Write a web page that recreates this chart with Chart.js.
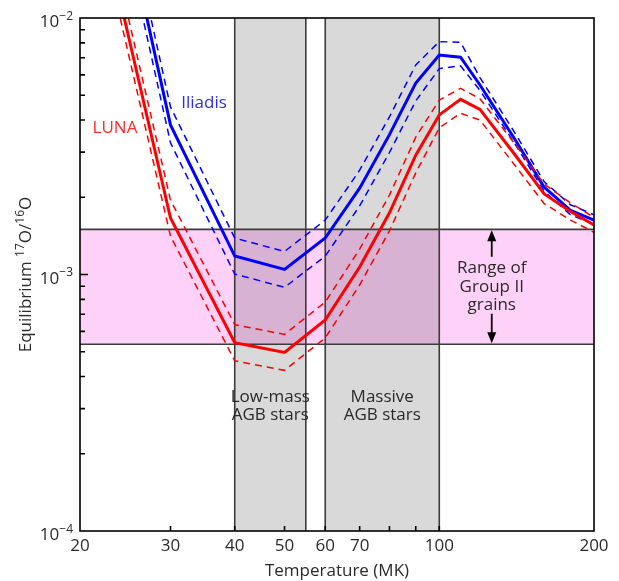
<!DOCTYPE html>
<html>
<head>
<meta charset="utf-8">
<script src="https://cdn.jsdelivr.net/npm/chart.js@4"></script>
<style>
  html, body { margin: 0; padding: 0; background: #fff; }
</style>
</head>
<body>
<canvas id="myChart" width="619" height="581"></canvas>
<script>
// temperatures (MK) where the equilibrium ratio was read
const temps = [20, 25, 30, 40, 50, 60, 70, 80, 90, 100, 110, 120, 140, 160, 180, 200];

// Iliadis rates
const iliadis     = [0.1, 2.0e-2, 3.83e-3, 1.18e-3, 1.047e-3, 1.387e-3, 2.17e-3, 3.51e-3, 5.58e-3, 7.17e-3, 7.03e-3, 5.48e-3, 3.39e-3, 2.19e-3, 1.78e-3, 1.63e-3];
const iliadisHigh = [0.12, 2.35e-2, 4.5e-3, 1.387e-3, 1.23e-3, 1.63e-3, 2.55e-3, 4.12e-3, 6.56e-3, 8.09e-3, 8.04e-3, 5.86e-3, 3.59e-3, 2.3e-3, 1.87e-3, 1.71e-3];
const iliadisLow  = [0.085, 1.7e-2, 3.26e-3, 1.004e-3, 8.91e-4, 1.18e-3, 1.85e-3, 2.99e-3, 4.75e-3, 6.35e-3, 6.51e-3, 5.22e-3, 3.26e-3, 2.11e-3, 1.71e-3, 1.57e-3];

// LUNA rates
const luna     = [5.6e-2, 8.06e-3, 1.66e-3, 5.42e-4, 4.97e-4, 6.65e-4, 1.069e-3, 1.74e-3, 2.92e-3, 4.19e-3, 4.82e-3, 4.4e-3, 2.95e-3, 2.06e-3, 1.76e-3, 1.56e-3];
const lunaHigh = [6.6e-2, 9.47e-3, 1.95e-3, 6.37e-4, 5.84e-4, 7.81e-4, 1.256e-3, 2.04e-3, 3.43e-3, 4.79e-3, 5.32e-3, 4.84e-3, 3.25e-3, 2.25e-3, 1.9e-3, 1.67e-3];
const lunaLow  = [4.8e-2, 6.86e-3, 1.41e-3, 4.61e-4, 4.23e-4, 5.66e-4, 9.1e-4, 1.48e-3, 2.49e-3, 3.73e-3, 4.25e-3, 4.0e-3, 2.68e-3, 1.89e-3, 1.63e-3, 1.46e-3];

// grain range and stellar temperature ranges
const grainRange = [5.35e-4, 1.5e-3];
const lowMassAGB = [40, 55];
const massiveAGB = [60, 100];

// axis ticks
const xTickValues = [20, 30, 40, 50, 60, 70, 100, 200];
const xMinorTicks = [30, 40, 50, 60, 70, 80, 90, 100];
const yTickValues = [1e-2, 1e-3, 1e-4];

const FONT = '"Open Sans", sans-serif';
const INK = '#2a2a2a';
const BLUE = 'rgb(0,0,255)';
const RED = 'rgb(255,0,0)';

function series(vals) {
  return temps.map((t, i) => ({ x: t, y: vals[i] }));
}

// draw text made of [text, isSuperscript] parts
function richText(ctx, parts, x, y, size, align) {
  const supSize = Math.round(size * 0.68);
  let w = 0;
  parts.forEach(p => {
    ctx.font = (p[1] ? supSize : size) + 'px ' + FONT;
    w += ctx.measureText(p[0]).width;
  });
  let cx = align === 'right' ? x - w : align === 'center' ? x - w / 2 : x;
  ctx.textAlign = 'left';
  ctx.textBaseline = 'alphabetic';
  parts.forEach(p => {
    ctx.font = (p[1] ? supSize : size) + 'px ' + FONT;
    ctx.fillText(p[0], cx, p[1] ? y - size * 0.42 : y);
    cx += ctx.measureText(p[0]).width;
  });
}

function arrowHead(ctx, x, tipY, dir) {
  ctx.beginPath();
  ctx.moveTo(x, tipY);
  ctx.lineTo(x - 4.5, tipY + dir * 11);
  ctx.lineTo(x + 4.5, tipY + dir * 11);
  ctx.closePath();
  ctx.fill();
}

const decorations = {
  id: 'decorations',
  beforeDatasetsDraw(chart) {
    const { ctx, chartArea: a, scales: { x, y } } = chart;
    ctx.save();
    const yTop = y.getPixelForValue(grainRange[1]);
    const yBot = y.getPixelForValue(grainRange[0]);
    ctx.fillStyle = '#fdd1f8';
    ctx.fillRect(a.left, yTop, a.right - a.left, yBot - yTop);

    ctx.globalCompositeOperation = 'multiply';
    ctx.fillStyle = '#d9d9d9';
    [lowMassAGB, massiveAGB].forEach(r => {
      const x0 = x.getPixelForValue(r[0]), x1 = x.getPixelForValue(r[1]);
      ctx.fillRect(x0, a.top, x1 - x0, a.bottom - a.top);
    });
    ctx.globalCompositeOperation = 'source-over';

    ctx.strokeStyle = '#3c3c3c';
    ctx.lineWidth = 1.6;
    ctx.beginPath();
    [yTop, yBot].forEach(py => { ctx.moveTo(a.left, py); ctx.lineTo(a.right, py); });
    [lowMassAGB[0], lowMassAGB[1], massiveAGB[0], massiveAGB[1]].forEach(v => {
      const px = x.getPixelForValue(v);
      ctx.moveTo(px, a.top); ctx.lineTo(px, a.bottom);
    });
    ctx.stroke();
    ctx.restore();
  },
  afterDatasetsDraw(chart) {
    const { ctx, chartArea: a, scales: { x, y } } = chart;
    ctx.save();
    // frame
    ctx.strokeStyle = '#000';
    ctx.lineWidth = 1.6;
    ctx.strokeRect(a.left, a.top, a.right - a.left, a.bottom - a.top);

    // inside ticks
    ctx.beginPath();
    xMinorTicks.forEach(v => {
      const px = x.getPixelForValue(v);
      ctx.moveTo(px, a.bottom); ctx.lineTo(px, a.bottom - 5);
    });
    for (let d = -4; d < -2; d++) {
      for (let m = 1; m < 10; m++) {
        const py = y.getPixelForValue(m * Math.pow(10, d));
        if (m === 1 && d === -4) continue;
        ctx.moveTo(a.left, py); ctx.lineTo(a.left + (m === 1 ? 8 : 5), py);
      }
    }
    ctx.stroke();

    // y tick labels
    ctx.fillStyle = INK;
    yTickValues.forEach(v => {
      const py = y.getPixelForValue(v);
      const e = Math.round(Math.log10(v));
      richText(ctx, [['10', false], ['\u2212' + Math.abs(e), true]], a.left - 7, py + 9, 17, 'right');
    });

    // y title
    ctx.save();
    ctx.translate(25, (a.top + a.bottom) / 2);
    ctx.rotate(-Math.PI / 2);
    richText(ctx, [['Equilibrium ', false], ['17', true], ['O/', false], ['16', true], ['O', false]], 0, 6, 17, 'center');
    ctx.restore();

    // grain range arrow and text
    const yTop = y.getPixelForValue(grainRange[1]);
    const yBot = y.getPixelForValue(grainRange[0]);
    const mid = (yTop + yBot) / 2;
    const ax = x.getPixelForValue(126.5);
    ctx.strokeStyle = '#000';
    ctx.fillStyle = '#000';
    ctx.lineWidth = 1.8;
    ctx.beginPath();
    ctx.moveTo(ax, yTop + 6); ctx.lineTo(ax, mid - 30);
    ctx.moveTo(ax, mid + 27); ctx.lineTo(ax, yBot - 6);
    ctx.stroke();
    arrowHead(ctx, ax, yTop + 1, 1);
    arrowHead(ctx, ax, yBot - 1, -1);

    ctx.fillStyle = INK;
    ctx.font = '17px ' + FONT;
    ctx.textAlign = 'center';
    ctx.textBaseline = 'middle';
    ctx.fillText('Range of', ax, mid - 18.5);
    ctx.fillText('Group II', ax, mid);
    ctx.fillText('grains', ax, mid + 18.5);

    // star labels
    const lx = (x.getPixelForValue(lowMassAGB[0]) + x.getPixelForValue(lowMassAGB[1])) / 2;
    const mx = (x.getPixelForValue(massiveAGB[0]) + x.getPixelForValue(massiveAGB[1])) / 2;
    ctx.fillText('Low-mass', lx, 397);
    ctx.fillText('AGB stars', lx, 415);
    ctx.fillText('Massive', mx, 397);
    ctx.fillText('AGB stars', mx, 415);

    // series labels
    ctx.fillStyle = '#2a2aff';
    ctx.fillText('Iliadis', 204, 103);
    ctx.fillStyle = '#ff2a2a';
    ctx.fillText('LUNA', 115, 128);
    ctx.restore();
  }
};

function line(vals, color, dashed) {
  return {
    data: series(vals),
    borderColor: color,
    borderWidth: dashed ? 1.5 : 3,
    borderDash: dashed ? [7, 5] : [],
    pointRadius: 0,
    tension: 0,
    fill: false
  };
}

const config = {
  type: 'line',
  data: {
    datasets: [
      line(lunaLow, RED, true),
      line(lunaHigh, RED, true),
      line(luna, RED, false),
      line(iliadisLow, BLUE, true),
      line(iliadisHigh, BLUE, true),
      line(iliadis, BLUE, false)
    ]
  },
  options: {
    responsive: false,
    animation: false,
    layout: { padding: { top: 18, right: 25, left: 0, bottom: 0 } },
    plugins: { legend: { display: false }, tooltip: { enabled: false } },
    scales: {
      x: {
        type: 'logarithmic',
        min: 20,
        max: 200,
        afterBuildTicks: s => { s.ticks = xTickValues.map(v => ({ value: v })); },
        afterFit: s => { s.height = 50; },
        grid: { display: false, drawTicks: false },
        border: { display: false },
        ticks: {
          autoSkip: false,
          maxRotation: 0,
          padding: 5,
          color: INK,
          font: { family: FONT, size: 17 },
          callback: v => String(v)
        },
        title: {
          display: true,
          text: 'Temperature (MK)',
          color: INK,
          font: { family: FONT, size: 17 },
          padding: { top: 0, bottom: 0 }
        }
      },
      y: {
        type: 'logarithmic',
        min: 1e-4,
        max: 1e-2,
        afterFit: s => { s.width = 80; },
        grid: { display: false, drawTicks: false },
        border: { display: false },
        ticks: { display: false }
      }
    }
  },
  plugins: [decorations]
};

const myChart = new Chart(document.getElementById('myChart'), config);
</script>
</body>
</html>
